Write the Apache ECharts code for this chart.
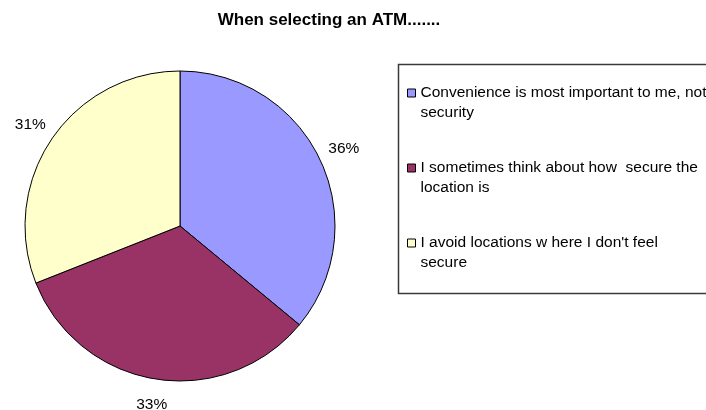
<!DOCTYPE html>
<html>
<head>
<meta charset="utf-8">
<style>
  html, body { margin: 0; padding: 0; background: #ffffff; }
  #chart { width: 706px; height: 410px; }
</style>
<script src="https://cdn.jsdelivr.net/npm/echarts@6/dist/echarts.min.js"></script>
</head>
<body>
<div id="chart"></div>
<script>
// Survey answers: attitude toward security when picking an ATM
const categories = [
  'Convenience is most important to me, not security',
  'I sometimes think about how  secure the location is',
  'I avoid locations w here I don\'t feel secure'
];
const legendLines = [
  'Convenience is most important to me, not\nsecurity',
  'I sometimes think about how  secure the\nlocation is',
  'I avoid locations w here I don\'t feel\nsecure'
];
const shares = [36, 33, 31];
const sliceColors = ['#9999FF', '#993366', '#FFFFCC'];

const font = '"Liberation Sans", Arial, sans-serif';
const pieCenter = [180, 226];

const chart = echarts.init(document.getElementById('chart'), null, { renderer: 'canvas' });

chart.setOption({
  animation: false,
  backgroundColor: '#ffffff',
  title: {
    text: 'When selecting an ATM.......',
    left: 324,
    top: 7,
    textAlign: 'center',
    textStyle: { fontFamily: font, fontSize: 17, fontWeight: 'bold', color: '#000000' }
  },
  // legend frame runs past the right edge of the canvas
  graphic: [{
    type: 'rect',
    shape: { x: 398.5, y: 64.5, width: 340, height: 229 },
    style: { fill: 'none', stroke: '#3a3a3a', lineWidth: 1.5 },
    silent: true,
    z: 1
  }],
  legend: {
    orient: 'vertical',
    left: 398,
    top: 64,
    padding: [19, 0, 20, 9],
    itemGap: 35,
    itemWidth: 8,
    itemHeight: 28,
    // square sits beside the first text line of each entry
    icon: 'path://M0,0h8v8h-8z M0,28L0,28',
    itemStyle: { borderColor: '#000000', borderWidth: 1 },
    textStyle: { fontFamily: font, fontSize: 15.5, color: '#000000', lineHeight: 20 },
    data: categories,
    formatter: function (name) {
      return legendLines[categories.indexOf(name)];
    }
  },
  series: [{
    type: 'pie',
    center: pieCenter,
    radius: 155,
    startAngle: 90,
    clockwise: true,
    itemStyle: { borderColor: '#000000', borderWidth: 1 },
    label: { show: false },
    labelLine: { show: false },
    emphasis: { disabled: true },
    data: categories.map((name, i) => ({
      name: name,
      value: shares[i],
      itemStyle: { color: sliceColors[i] }
    }))
  }, {
    // transparent ring around the pie that carries the centred percentage labels
    type: 'pie',
    center: pieCenter,
    radius: [155, 201],
    startAngle: 90,
    clockwise: true,
    silent: true,
    itemStyle: { color: 'rgba(0,0,0,0)', borderWidth: 0 },
    label: {
      show: true,
      position: 'inside',
      formatter: '{c}%',
      fontFamily: font,
      fontSize: 15.5,
      color: '#000000'
    },
    labelLine: { show: false },
    emphasis: { disabled: true },
    data: categories.map((name, i) => ({ name: name, value: shares[i] }))
  }]
});
</script>
</body>
</html>
